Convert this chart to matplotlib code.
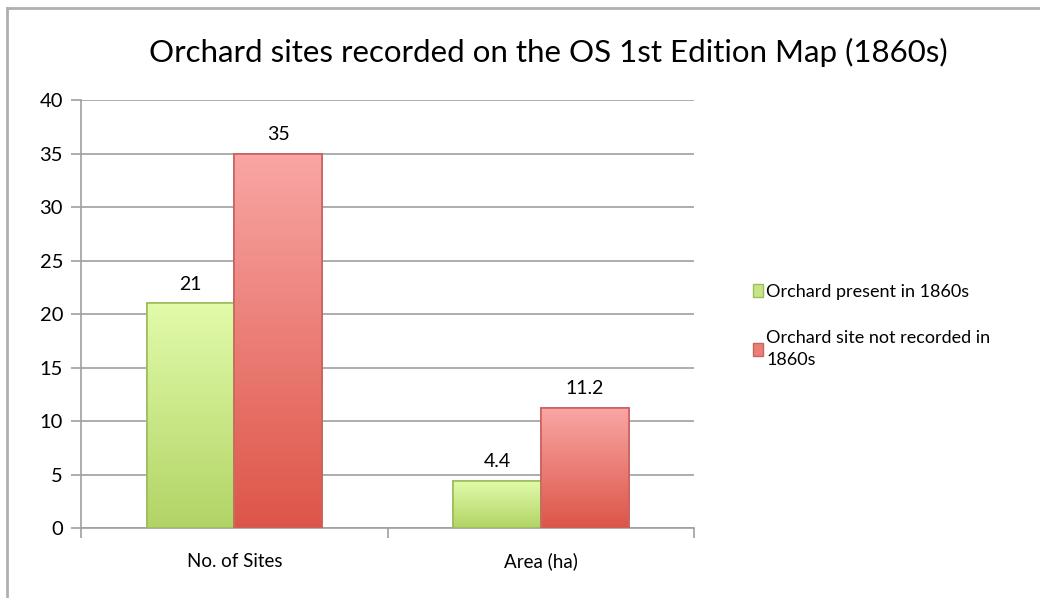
import matplotlib.pyplot as plt
import numpy as np
from matplotlib.colors import LinearSegmentedColormap
from matplotlib.lines import Line2D

categories = ['No. of Sites', 'Area (ha)']
present = [21, 4.4]
not_recorded = [35, 11.2]
series_names = ['Orchard present in 1860s', 'Orchard site not recorded in\n1860s']
title = 'Orchard sites recorded on the OS 1st Edition Map (1860s)'

plt.rcParams['font.family'] = ['Lato', 'DejaVu Sans']

fig = plt.figure(figsize=(10.4, 5.98), dpi=100)
ax = fig.add_axes([0.078, 0.117, 0.5895, 0.7157])

green_cmap = LinearSegmentedColormap.from_list('g', ['#b2d465', '#e2fbaa'])
red_cmap = LinearSegmentedColormap.from_list('r', ['#dd5548', '#f9a6a4'])

x = np.arange(len(categories))
w = 1 / 3.5

def gradient_bars(xs, vals, cmap, edge, label):
    bars = ax.bar(xs, vals, w, color=cmap(0.5), edgecolor=edge, linewidth=1.2,
                  label=label, zorder=3)
    grad = np.linspace(0, 1, 256).reshape(-1, 1)
    for b in bars:
        bx, by = b.get_x(), b.get_y()
        bw, bh = b.get_width(), b.get_height()
        im = ax.imshow(grad, cmap=cmap, origin='lower', aspect='auto',
                       extent=[bx, bx + bw, by, by + bh], zorder=3.5)
        im.set_clip_path(b)
        ax.bar(bx + bw / 2, bh, bw, bottom=by, facecolor='none',
               edgecolor=edge, linewidth=1.2, zorder=4)
    for b, v in zip(bars, vals):
        ax.text(b.get_x() + b.get_width() / 2, v + 1.0, f'{v:g}',
                ha='center', va='bottom', fontsize=14, color='black')
    return bars

gradient_bars(x - w / 2, present, green_cmap, '#9cbd5e', series_names[0])
gradient_bars(x + w / 2, not_recorded, red_cmap, '#c96360', series_names[1])

ax.set_xlim(-0.5, 1.5)
ax.set_ylim(0, 40)
ax.set_yticks(range(0, 41, 5))
ax.tick_params(axis='y', labelsize=14.5, length=7, color='#a0a0a0', width=1.2, pad=6)
ax.set_xticks(x)
ax.set_xticklabels(categories, fontsize=13.5, va='center_baseline')
ax.tick_params(axis='x', length=0, pad=23)
ax.set_xticks([-0.5, 0.5, 1.5], minor=True)
ax.tick_params(axis='x', which='minor', length=7, color='#a0a0a0', width=1.2)
ax.grid(axis='y', color='#a0a0a0', linewidth=1.2, zorder=0)
ax.set_axisbelow(True)
for s in ['top', 'right']:
    ax.spines[s].set_visible(False)
for s in ['left', 'bottom']:
    ax.spines[s].set_color('#a0a0a0')
    ax.spines[s].set_linewidth(1.2)

fig.text(0.527, 0.912, title, ha='center', va='center', fontsize=22.5)

handles = [plt.Rectangle((0, 0), 1, 1, facecolor='#c8e488', edgecolor='#9cbd5e'),
           plt.Rectangle((0, 0), 1, 1, facecolor='#ec7e78', edgecolor='#c96360')]
leg = fig.legend(handles, series_names, loc='upper left', bbox_to_anchor=(0.708, 0.553),
                 frameon=False, fontsize=13, handlelength=0.55, handleheight=0.7,
                 handletextpad=0.2, labelspacing=1.7)
for t in leg.get_texts():
    t.set_linespacing(1.45)

# chart frame
fig.add_artist(Line2D([7 / 1040, 1], [1 - 8 / 598] * 2, color='#b0b0b0', lw=2))
fig.add_artist(Line2D([7 / 1040] * 2, [0, 1 - 8 / 598], color='#b0b0b0', lw=2))

fig.savefig('out.png', dpi=100)
